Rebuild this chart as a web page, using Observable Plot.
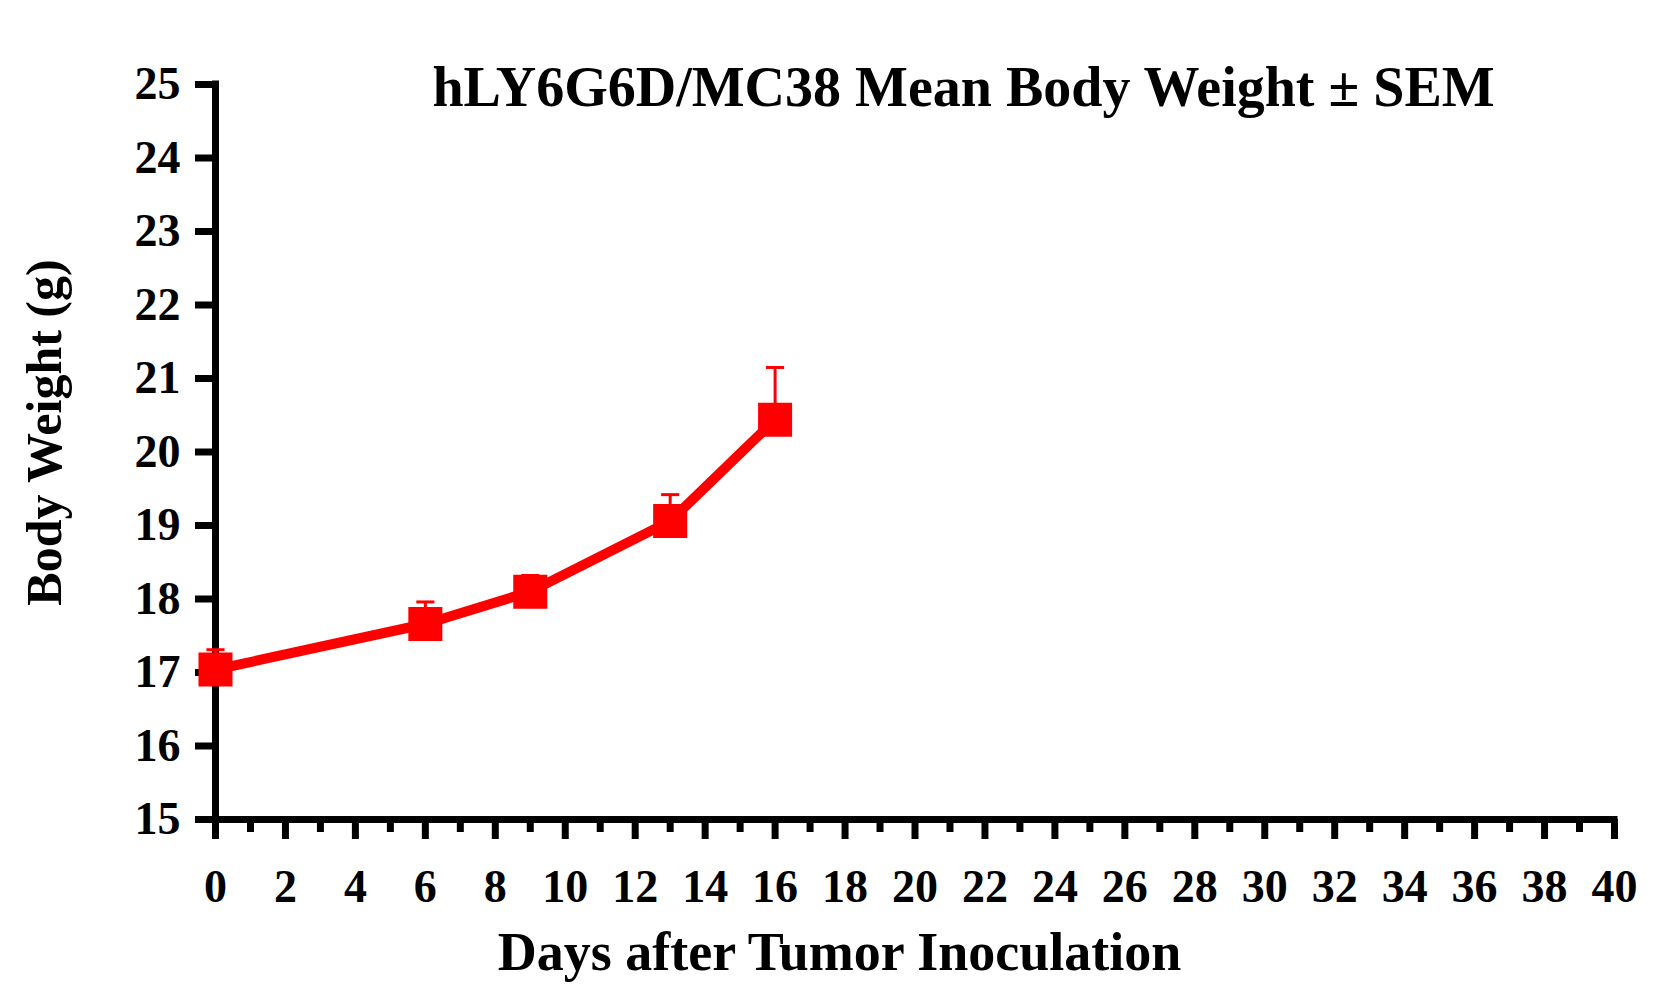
<!DOCTYPE html>
<html>
<head>
<meta charset="utf-8">
<script src="https://cdn.jsdelivr.net/npm/d3@7"></script>
<script src="https://cdn.jsdelivr.net/npm/@observablehq/plot@0.6"></script>
<style>
  html, body { margin: 0; padding: 0; background: #fff; }
</style>
</head>
<body>
<div id="chart"></div>
<script>
const titleText = "hLY6G6D/MC38 Mean Body Weight \u00B1 SEM";
const xLabel = "Days after Tumor Inoculation";
const yLabel = "Body Weight (g)";

const days = [0, 6, 9, 13, 16];
const meanWeight = [17.04, 17.66, 18.10, 19.06, 20.44];
const semWeight = [0.27, 0.30, 0.22, 0.36, 0.71];

const xMajorTicks = [0, 2, 4, 6, 8, 10, 12, 14, 16, 18, 20, 22, 24, 26, 28, 30, 32, 34, 36, 38, 40];
const xMinorTicks = [1, 3, 5, 7, 9, 11, 13, 15, 17, 19, 21, 23, 25, 27, 29, 31, 33, 35, 37, 39];
const yTicks = [15, 16, 17, 18, 19, 20, 21, 22, 23, 24, 25];

const data = days.map((d, i) => ({day: d, mean: meanWeight[i], sem: semWeight[i], top: meanWeight[i] + semWeight[i]}));

const capSymbol = {
  draw(context, size) {
    const w = Math.sqrt(size);
    context.moveTo(-w / 2, 0);
    context.lineTo(w / 2, 0);
  }
};

const red = "#ff0000";
const font = "'Liberation Serif', 'Times New Roman', serif";

const chart = Plot.plot({
  width: 1678,
  height: 994,
  marginLeft: 215,
  marginRight: 64,
  marginTop: 84,
  marginBottom: 175,
  style: {fontFamily: font, fontWeight: "bold", background: "#fff", color: "#000"},
  x: {domain: [0, 40]},
  y: {domain: [15, 25]},
  marks: [
    Plot.axisY(yTicks, {tickSize: 20, tickPadding: 15, strokeWidth: 7, fontSize: 46, label: null, tickFormat: d => String(d)}),
    Plot.axisX(xMajorTicks, {tickSize: 20, tickPadding: 30, strokeWidth: 7, fontSize: 46, label: null, tickFormat: d => String(d)}),
    Plot.axisX(xMinorTicks, {tickSize: 13, strokeWidth: 7, label: null, tickFormat: () => ""}),
    Plot.ruleX([0], {stroke: "#000", strokeWidth: 7, strokeLinecap: "square"}),
    Plot.ruleY([15], {stroke: "#000", strokeWidth: 7, strokeLinecap: "square"}),
    Plot.ruleX(data, {x: "day", y1: "mean", y2: "top", stroke: red, strokeWidth: 3}),
    Plot.dot(data, {x: "day", y: "top", symbol: capSymbol, r: 10.2, stroke: red, strokeWidth: 3, fill: "none"}),
    Plot.line(data, {x: "day", y: "mean", stroke: red, strokeWidth: 10}),
    Plot.dot(data, {x: "day", y: "mean", symbol: "square", r: 19.2, fill: red, stroke: "none"}),
    Plot.text([titleText], {text: d => d, frameAnchor: "top", textAnchor: "middle", dx: 48.5, dy: 21, lineAnchor: "bottom", fontSize: 56, fill: "#000"}),
    Plot.text([xLabel], {text: d => d, frameAnchor: "bottom", textAnchor: "middle", dx: -75.5, dy: 150, lineAnchor: "bottom", fontSize: 54, fill: "#000"}),
    Plot.text([yLabel], {text: d => d, frameAnchor: "left", textAnchor: "middle", dx: -155, dy: -19.5, rotate: -90, lineAnchor: "bottom", fontSize: 50, fill: "#000"})
  ]
});
document.getElementById("chart").appendChild(chart);
</script>
</body>
</html>
